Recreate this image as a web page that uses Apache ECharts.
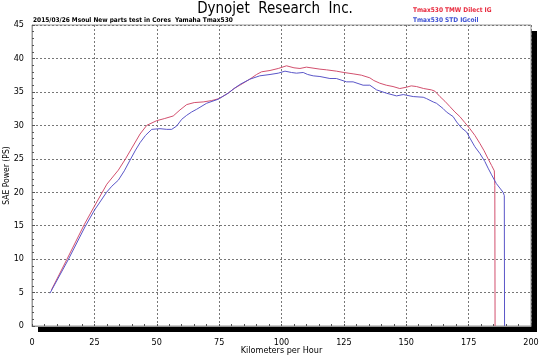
<!DOCTYPE html>
<html><head><meta charset="utf-8">
<script src="https://cdn.jsdelivr.net/npm/echarts@6/dist/echarts.min.js"></script>
<style>html,body{margin:0;padding:0;background:#fff}#c{width:550px;height:356px}</style>
</head><body><div id="c"></div>
<script>
const titleText = 'Dynojet  Research  Inc.';
const subText = '2015/03/26 Msoul New parts test in Cores  Yamaha Tmax530';
const seriesNames = ['Tmax530 TMW Dilect IG', 'Tmax530 STD IGcoil'];
const xTicks = [0, 25, 50, 75, 100, 125, 150, 175, 200];
const yTicks = [0, 5, 10, 15, 20, 25, 30, 35, 40, 45];

// Red: TMW Direct IG  [km/h, PS]
const redSpeed = [7.8,13.9,21,25,30,34.6,37.5,40,43.3,46,50,53,56.6,59.3,62,65,68.6,72,75,78.6,81,83.3,87.3,90,92,95.4,98.7,102,105,107.4,110,115.4,118,122,125,128.7,132,135.4,137,139.4,142,144.7,147.4,150.1,152,154.1,157,160.1,161.5,163.5,165.5,167.5,169.5,171.5,173.5,175.5,177.5,179.5,181.2,182.8,184.2,185.3,185.5,185.6];
const redPower = [5.4,9.9,15.2,17.9,21.2,23.3,25.0,26.6,28.7,30.0,30.7,31.0,31.4,32.3,33.1,33.4,33.5,33.7,34.0,34.8,35.5,36.0,36.9,37.6,38.0,38.2,38.5,38.9,38.6,38.5,38.7,38.4,38.3,38.1,37.9,37.7,37.5,37.1,36.7,36.3,36.0,35.8,35.5,35.7,35.9,35.8,35.5,35.3,35.1,34.3,33.6,32.8,32.0,31.3,30.4,29.5,28.5,27.3,26.2,25.0,24.0,23.2,21.0,0];
// Blue: STD IG coil
const blueSpeed = [7.2,14.5,21.2,25,29.9,32,34.6,37,39.3,41.5,43.3,45.5,48,51.3,54,56,58,60,62,64,66,70,74.6,78.6,81,83.3,87.3,91.3,95.4,98.7,101.4,104,106,108.7,110.5,112.7,115.4,119.4,122,126.1,128.7,132.7,135.4,138.1,142.1,146.1,148.8,150.1,152.8,156.8,158.1,160.8,162.1,164.8,166.1,168.8,170.2,172.2,174.2,175.5,177.5,179.5,181.5,182.8,184.2,186.1,188.8,189.3,189.4];
const bluePower = [4.9,9.9,14.8,17.3,20.0,20.9,21.8,23.2,24.8,26.3,27.4,28.5,29.4,29.5,29.4,29.4,29.9,30.9,31.5,32.0,32.4,33.3,33.9,34.8,35.5,36.1,36.9,37.4,37.6,37.8,38.1,37.9,37.8,37.9,37.6,37.4,37.3,37.0,37.0,36.5,36.5,36.0,36.0,35.3,34.8,34.4,34.6,34.5,34.3,34.2,34.0,33.5,33.3,32.5,32.0,31.3,30.5,29.6,29.0,28.1,26.8,25.8,24.6,23.6,22.6,21.3,20.0,19.5,0];

const redData = redSpeed.map((s, i) => [s, redPower[i]]);
const blueData = blueSpeed.map((s, i) => [s, bluePower[i]]);
const RED = '#d2506e', BLUE = '#5a56c8';
const narrow = '"Liberation Sans Narrow","DejaVu Sans Condensed","Liberation Sans",sans-serif';
const gridBox = {left: 32, top: 25, width: 499, height: 301, outerBoundsMode: 'none', containLabel: false};

const chart = echarts.init(document.getElementById('c'), null, {renderer: 'canvas'});
chart.setOption({
  animation: false,
  title: [
    {text: titleText, left: 'center', top: 2, padding: 0, textStyle: {fontFamily: narrow, fontSize: 15, fontWeight: 'normal', color: '#000'}},
    {text: subText, left: 33, top: 17, padding: 0, textStyle: {fontFamily: narrow, fontSize: 6.5, fontWeight: 'bold', color: '#000'}}
  ],
  legend: {
    orient: 'vertical', left: 408, top: 7, padding: 0, itemGap: 3, icon: 'none', itemWidth: 0, itemHeight: 7,
    textStyle: {fontFamily: narrow, fontSize: 6.5, fontWeight: 'bold', padding: 0},
    data: [
      {name: seriesNames[0], textStyle: {color: '#e8283c'}},
      {name: seriesNames[1], textStyle: {color: '#3c50d2'}}
    ]
  },
  grid: [
    Object.assign({show: true, backgroundColor: '#fff', borderWidth: 0, borderColor: 'transparent',
      shadowColor: '#000', shadowBlur: 0, shadowOffsetX: 6, shadowOffsetY: 6}, gridBox),
    Object.assign({show: true, backgroundColor: 'transparent', borderWidth: 1, borderColor: '#999'}, gridBox)
  ],
  xAxis: [{
    type: 'value', gridIndex: 0, min: xTicks[0], max: xTicks[xTicks.length - 1], interval: 25,
    name: 'Kilometers per Hour', nameLocation: 'middle', nameGap: 20, nameMoveOverlap: false,
    nameTextStyle: {fontFamily: narrow, fontSize: 9, color: '#000'},
    axisLine: {show: true, lineStyle: {color: '#999'}},
    axisTick: {show: true, inside: true, length: 2, lineStyle: {color: '#555'}},
    minorTick: {show: true, splitNumber: 5, length: 2, lineStyle: {color: '#555'}},
    axisLabel: {margin: 12, fontFamily: narrow, fontSize: 9, color: '#000'},
    splitLine: {show: true, lineStyle: {color: '#777', type: [2, 2], width: 1}}
  }, {
    type: 'value', gridIndex: 1, min: 0, max: 200, show: false
  }],
  yAxis: [{
    type: 'value', gridIndex: 0, min: yTicks[0], max: yTicks[yTicks.length - 1], interval: 5,
    name: 'SAE Power (PS)', nameLocation: 'middle', nameGap: 21, nameRotate: 90, nameMoveOverlap: false,
    nameTextStyle: {fontFamily: narrow, fontSize: 8.5, color: '#000'},
    axisLine: {show: true, lineStyle: {color: '#999'}},
    axisTick: {show: true, inside: true, length: 3, lineStyle: {color: '#555'}},
    minorTick: {show: true, splitNumber: 5, length: 2, lineStyle: {color: '#555'}},
    axisLabel: {margin: 8, fontFamily: narrow, fontSize: 9, color: '#000'},
    splitLine: {show: true, lineStyle: {color: '#777', type: [2, 2], width: 1}}
  }, {
    type: 'value', gridIndex: 1, min: 0, max: 45, show: false
  }],
  series: [
    {name: seriesNames[0], type: 'line', xAxisIndex: 0, yAxisIndex: 0, data: redData, showSymbol: false, lineStyle: {color: RED, width: 1}, itemStyle: {color: RED}},
    {name: seriesNames[1], type: 'line', xAxisIndex: 0, yAxisIndex: 0, data: blueData, showSymbol: false, lineStyle: {color: BLUE, width: 1}, itemStyle: {color: BLUE}}
  ]
});
</script></body></html>
